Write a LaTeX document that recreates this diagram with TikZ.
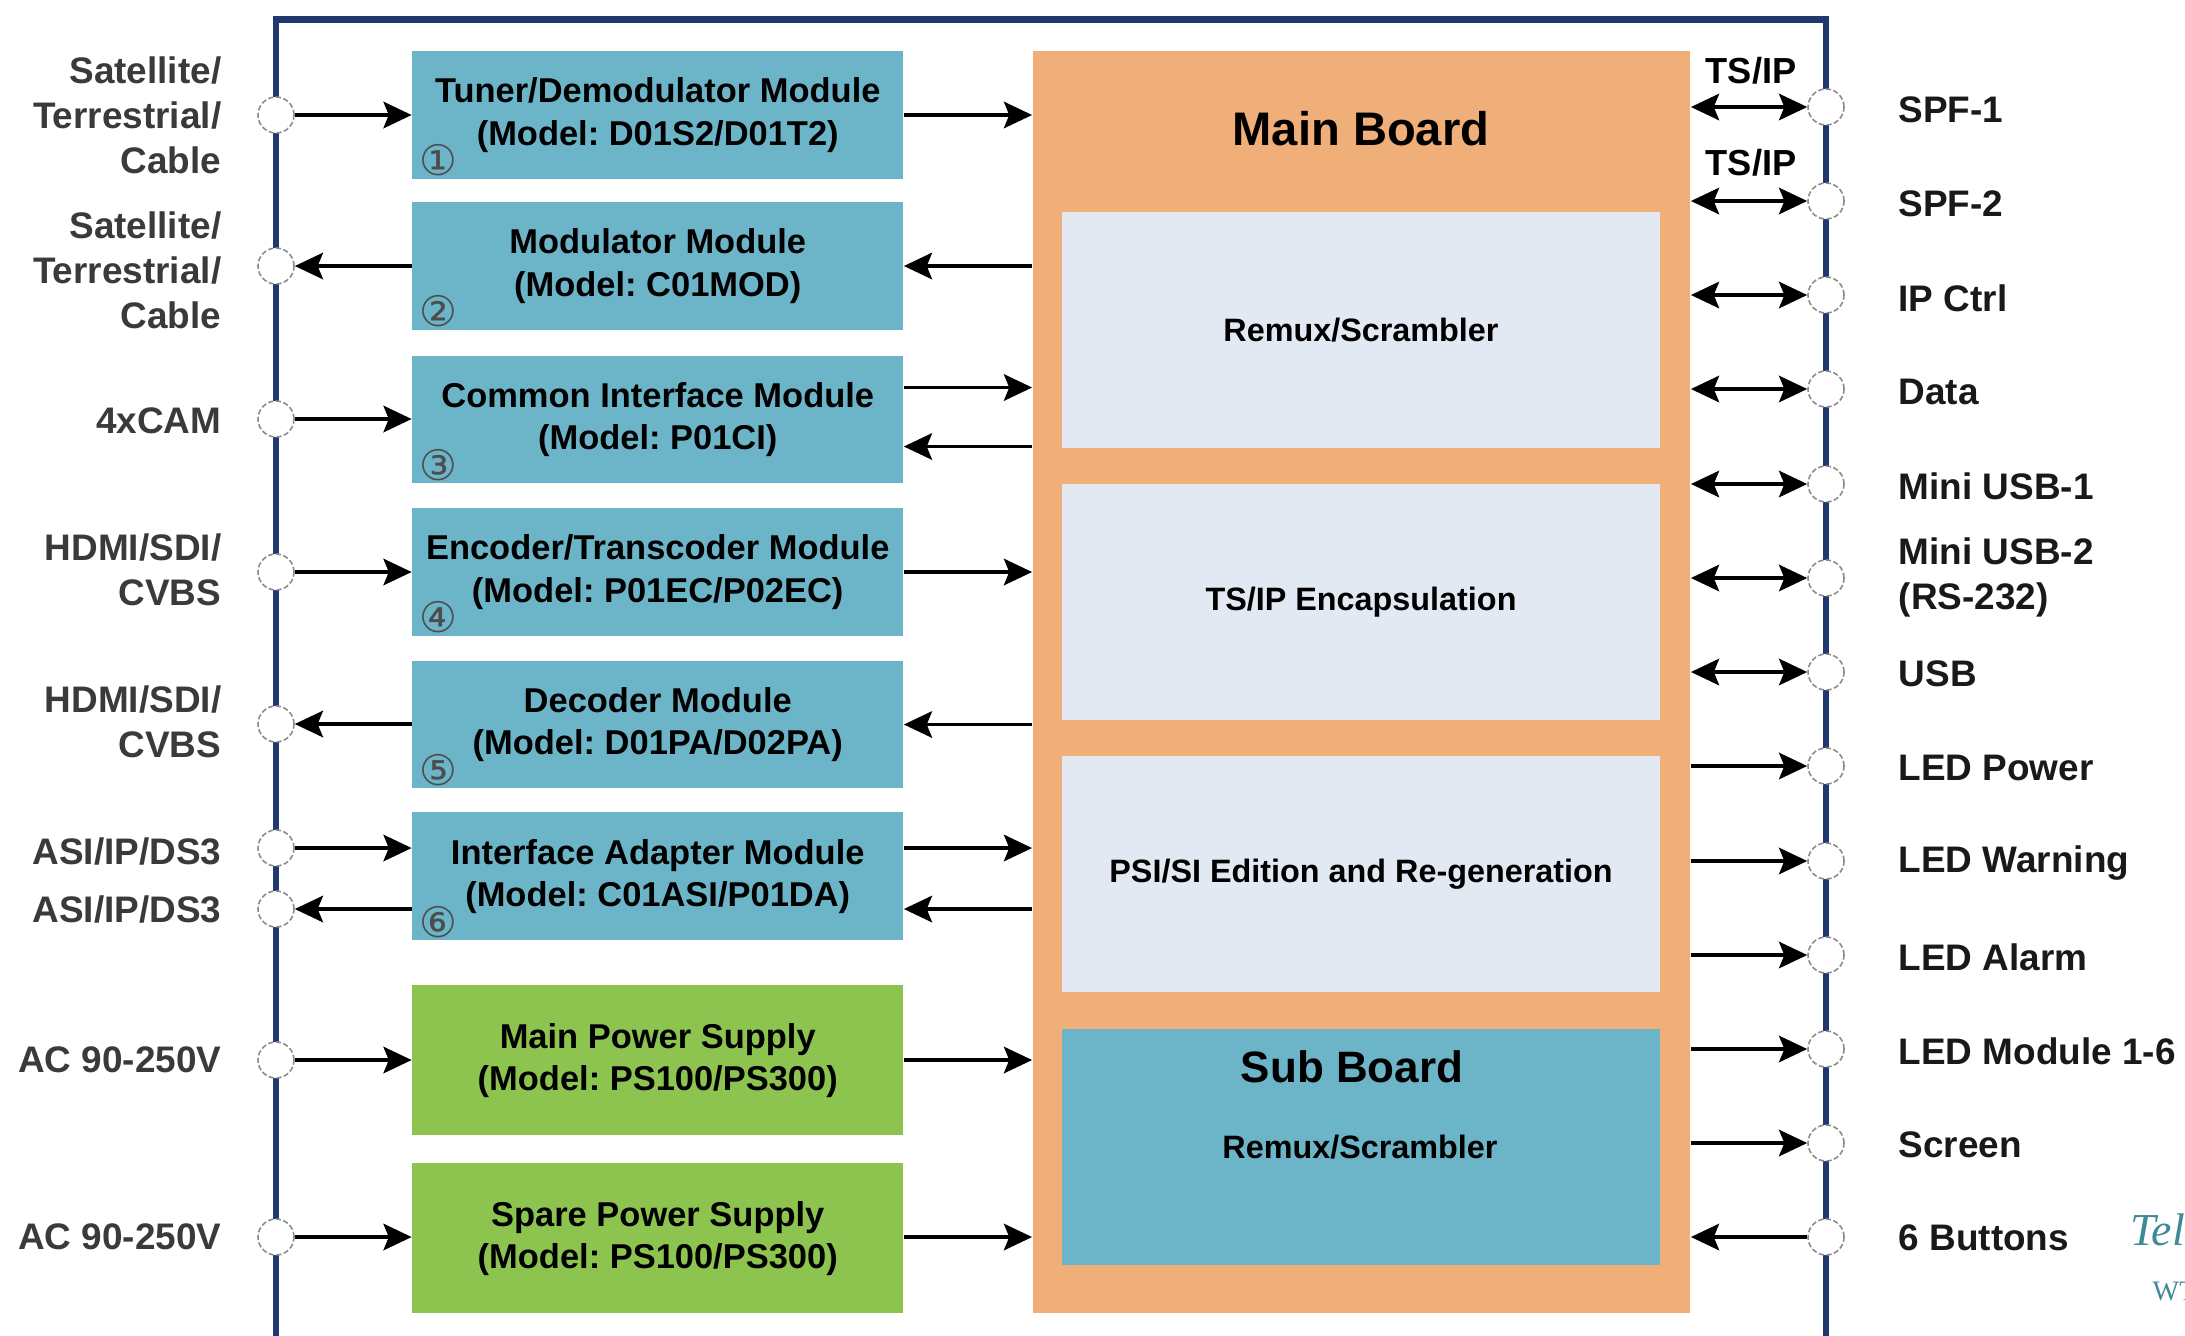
\documentclass[tikz,border=0pt]{standalone}
\usepackage{fontspec}
\setmainfont{Liberation Sans}
\newfontfamily\dgCircFont{DejaVu Sans}
\newfontfamily\dgWmFont{Liberation Serif}
\usetikzlibrary{arrows.meta,calc}
\definecolor{tealbox}{RGB}{108,181,200}
\definecolor{orangebox}{RGB}{240,174,120}
\definecolor{palebox}{RGB}{226,233,243}
\definecolor{greenbox}{RGB}{141,196,80}
\definecolor{navyline}{RGB}{31,56,110}
\definecolor{lbltext}{RGB}{58,58,58}
\definecolor{wmcol}{RGB}{63,138,153}
\newcommand{\dgModFont}{\fontsize{9.8pt}{12pt}\selectfont\bfseries}
\newcommand{\dgInFont}{\fontsize{9.2pt}{11pt}\selectfont\bfseries}
\newcommand{\dgLblFont}{\fontsize{10.5pt}{12.8pt}\selectfont\bfseries}
\frenchspacing
\begin{document}
\begin{tikzpicture}[x=0.01cm,y=-0.01cm,
  modbox/.style={fill=tealbox, minimum width=4.905cm, minimum height=1.275cm, inner sep=0pt, align=center, font=\dgModFont, text=black},
  pwrbox/.style={modbox, fill=greenbox, minimum height=1.5cm},
  inbox/.style={fill=palebox, minimum width=5.98cm, minimum height=2.357cm, inner sep=0pt, font=\dgInFont, text=black},
  port/.style={circle, fill=white, draw=black!45, line width=0.45pt, dash pattern=on 1.5pt off 0.7pt, minimum size=0.36cm, inner sep=0pt},
  num/.style={font=\dgCircFont\fontsize{12pt}{13pt}\selectfont, text=black!70, inner sep=0pt},
  llbl/.style={anchor=east, align=right, font=\dgLblFont, text=lbltext, inner sep=0pt},
  rlbl/.style={anchor=west, align=left, font=\dgLblFont, text=black!90, inner sep=0pt},
  arr/.style={line width=1.1pt, -{Stealth[length=8pt,width=7.5pt,inset=1.5pt]}},
  dbl/.style={line width=1.1pt, {Stealth[length=8pt,width=7.5pt,inset=1.5pt]}-{Stealth[length=8pt,width=7.5pt,inset=1.5pt]}}
]
\useasboundingbox (0,0) rectangle (2185,1335);
\fill[white] (0,0) rectangle (2185,1335);

% outer frame
\draw[navyline, line width=1.8pt] (276,1345) -- (276,19.5) -- (1826,19.5) -- (1826,1345);

% modules
\node[modbox] (m1) at (657.75,115) {Tuner/Demodulator Module\\(Model: D01S2/D01T2)};
\node[modbox] (m2) at (657.75,266) {Modulator Module\\(Model: C01MOD)};
\node[modbox] (m3) at (657.75,419.5) {Common Interface Module\\(Model: P01CI)};
\node[modbox] (m4) at (657.75,572) {Encoder/Transcoder Module\\(Model: P01EC/P02EC)};
\node[modbox] (m5) at (657.75,724.5) {Decoder Module\\(Model: D01PA/D02PA)};
\node[modbox] (m6) at (657.75,876.25) {Interface Adapter Module\\(Model: C01ASI/P01DA)};
\node[pwrbox] (m7) at (657.75,1060.25) {Main Power Supply\\(Model: PS100/PS300)};
\node[pwrbox] (m8) at (657.75,1238.25) {Spare Power Supply\\(Model: PS100/PS300)};

\node[num] (n1) at ($(m1.south west)+(27,-19)$) {①};
\node[num] (n2) at ($(m2.south west)+(27,-19)$) {②};
\node[num] (n3) at ($(m3.south west)+(27,-19)$) {③};
\node[num] (n4) at ($(m4.south west)+(27,-19)$) {④};
\node[num] (n5) at ($(m5.south west)+(27,-19)$) {⑤};
\node[num] (n6) at ($(m6.south west)+(27,-19)$) {⑥};

% main board
\node[fill=orangebox, minimum width=6.57cm, minimum height=12.62cm, inner sep=0pt] (mb) at (1361.5,682) {};
\node[font=\fontsize{13.4pt}{15pt}\selectfont\bfseries, inner sep=0pt] (mbt) at (1361,129) {Main Board};
\node[inbox] (b1) at (1361,329.7) {Remux/Scrambler};
\node[inbox] (b2) at (1361,601.8) {TS/IP Encapsulation};
\node[inbox] (b3) at (1361,873.9) {PSI/SI Edition and Re-generation};
\node[inbox, fill=tealbox] (sb) at (1361,1147) {};
\node[font=\fontsize{12.5pt}{14pt}\selectfont\bfseries, inner sep=0pt] (sbt) at (1352,1067) {Sub Board};
\node[font=\dgInFont, inner sep=0pt] (sbr) at (1360,1147) {Remux/Scrambler};

% left ports
\node[port] (L1) at (276,115) {};
\node[port] (L2) at (276,266) {};
\node[port] (L3) at (276,419) {};
\node[port] (L4) at (276,572) {};
\node[port] (L5) at (276,724) {};
\node[port] (L6) at (276,848) {};
\node[port] (L7) at (276,909) {};
\node[port] (L8) at (276,1060) {};
\node[port] (L9) at (276,1237) {};

% right ports
\foreach \i/\y in {1/107,2/201,3/295,4/389,5/484,6/578,7/672,8/766,9/861,10/955,11/1049,12/1143,13/1237}
  \node[port] (R\i) at (1826,\y) {};

% left labels
\node[llbl] (t1) at (222,115) {Satellite/\\Terrestrial/\\Cable};
\node[llbl] (t2) at (222,270) {Satellite/\\Terrestrial/\\Cable};
\node[llbl] (t3) at (222,421) {4xCAM};
\node[llbl] (t4) at (222,570) {HDMI/SDI/\\CVBS};
\node[llbl] (t5) at (222,722) {HDMI/SDI/\\CVBS};
\node[llbl] (t6) at (222,851) {ASI/IP/DS3};
\node[llbl] (t7) at (222,909) {ASI/IP/DS3};
\node[llbl] (t8) at (222,1060) {AC 90-250V};
\node[llbl] (t9) at (222,1237) {AC 90-250V};

% right labels
\node[rlbl] (r1) at (1898,110) {SPF-1};
\node[rlbl] (r2) at (1898,204) {SPF-2};
\node[rlbl] (r3) at (1898,298) {IP Ctrl};
\node[rlbl] (r4) at (1898,392) {Data};
\node[rlbl] (r5) at (1898,486) {Mini USB-1};
\node[rlbl] (r6) at (1898,577) {Mini USB-2\\(RS-232)};
\node[rlbl] (r7) at (1898,674) {USB};
\node[rlbl] (r8) at (1898,768) {LED Power};
\node[rlbl] (r9) at (1898,863) {LED Warning};
\node[rlbl] (r10) at (1898,957) {LED Alarm};
\node[rlbl] (r11) at (1898,1051) {LED Module 1-6};
\node[rlbl] (r12) at (1898,1145) {Screen};
\node[rlbl] (r13) at (1898,1238) {6 Buttons};

% left connectors
\draw[arr] (L1.east) -- (L1 -| m1.west);
\draw[arr] (m1.east) -- (m1.east -| mb.west);
\draw[arr] (m2.west |- L2) -- (L2.east);
\draw[arr] (m2.east -| mb.west) -- (m2.east);
\draw[arr] (L3.east) -- (L3 -| m3.west);
\draw[arr] ($(m3.east)+(0,-32)$) -- ($(m3.east -| mb.west)+(0,-32)$);
\draw[arr] ($(m3.east -| mb.west)+(0,27)$) -- ($(m3.east)+(0,27)$);
\draw[arr] (L4.east) -- (L4 -| m4.west);
\draw[arr] (m4.east) -- (m4.east -| mb.west);
\draw[arr] (m5.west |- L5) -- (L5.east);
\draw[arr] (m5.east -| mb.west) -- (m5.east);
\draw[arr] (L6.east) -- (L6 -| m6.west);
\draw[arr] (m6.west |- L7) -- (L7.east);
\draw[arr] (m6.east |- L6) -- (mb.west |- L6);
\draw[arr] (mb.west |- L7) -- (m6.east |- L7);
\draw[arr] (L8.east) -- (L8 -| m7.west);
\draw[arr] (m7.east |- L8) -- (mb.west |- L8);
\draw[arr] (L9.east) -- (L9 -| m8.west);
\draw[arr] (m8.east |- L9) -- (mb.west |- L9);

% right connectors
\foreach \i in {1,...,7}
  \draw[dbl] (mb.east |- R\i) -- (R\i.west);
\foreach \i in {8,...,12}
  \draw[arr] (mb.east |- R\i) -- (R\i.west);
\draw[arr] (R13.west) -- (mb.east |- R13);

\node[font=\fontsize{10.3pt}{12pt}\selectfont\bfseries, inner sep=0pt] (ts1) at ($(mb.east |- R1)!0.5!(R1.west)+(2,-36)$) {TS/IP};
\node[font=\fontsize{10.3pt}{12pt}\selectfont\bfseries, inner sep=0pt] (ts2) at ($(mb.east |- R2)!0.5!(R2.west)+(2,-38)$) {TS/IP};

% watermark fragment
\node[anchor=base west, font=\dgWmFont\itshape\fontsize{13pt}{14pt}\selectfont, text=wmcol, inner sep=0pt] (wm1) at (2130,1245) {Tel};
\node[anchor=base west, font=\dgWmFont\fontsize{8pt}{9pt}\selectfont, text=wmcol, inner sep=0pt] (wm2) at (2152,1300) {WT};
\end{tikzpicture}
\end{document}
